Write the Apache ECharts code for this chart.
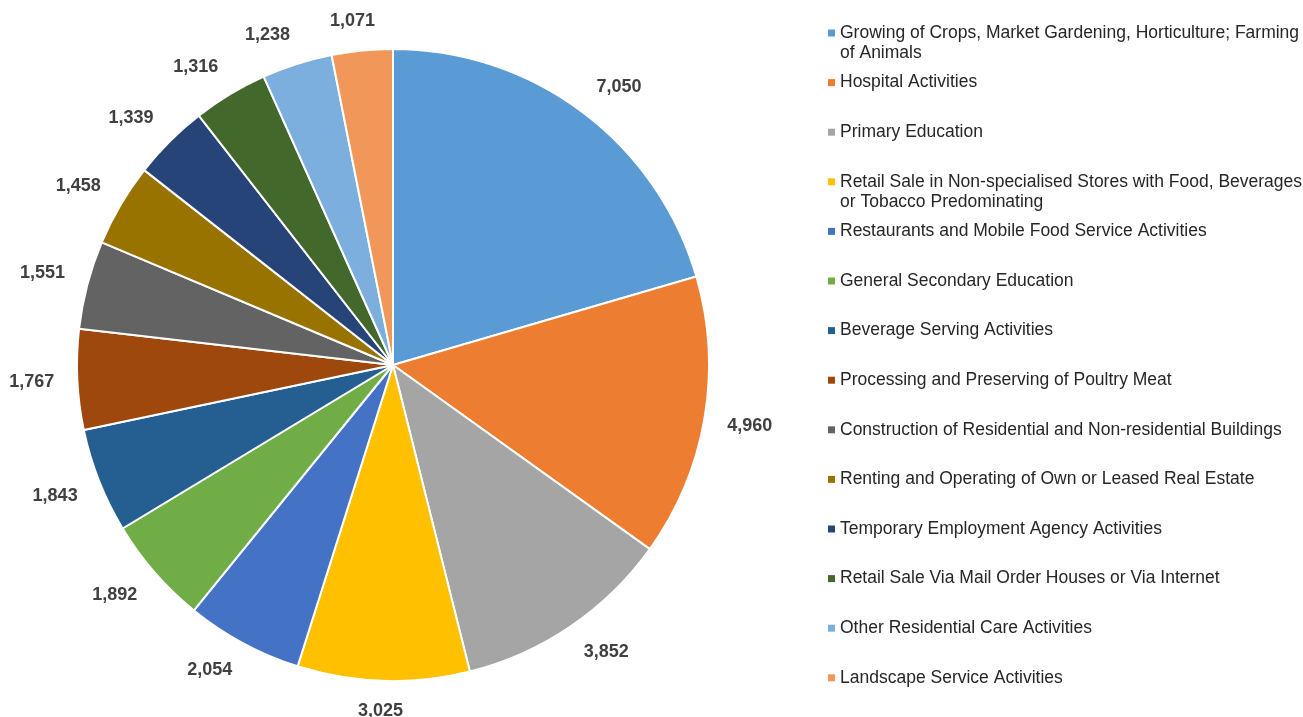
<!DOCTYPE html>
<html>
<head>
<meta charset="utf-8">
<script src="https://cdn.jsdelivr.net/npm/echarts@6/dist/echarts.min.js"></script>
<style>
html,body{margin:0;padding:0;background:#fff;}
#chart{width:1303px;height:717px;}
</style>
</head>
<body>
<div id="chart"></div>
<script>
// ---- data ----
const categories = [
  "Growing of Crops, Market Gardening, Horticulture; Farming\nof Animals",
  "Hospital Activities",
  "Primary Education",
  "Retail Sale in Non-specialised Stores with Food, Beverages\nor Tobacco Predominating",
  "Restaurants and Mobile Food Service Activities",
  "General Secondary Education",
  "Beverage Serving Activities",
  "Processing and Preserving of Poultry Meat",
  "Construction of Residential and Non-residential Buildings",
  "Renting and Operating of Own or Leased Real Estate",
  "Temporary Employment Agency Activities",
  "Retail Sale Via Mail Order Houses or Via Internet",
  "Other Residential Care Activities",
  "Landscape Service Activities"
];
const values = [7050, 4960, 3852, 3025, 2054, 1892, 1843, 1767, 1551, 1458, 1339, 1316, 1238, 1071];
const colors = ["#5B9BD5", "#ED7D31", "#A5A5A5", "#FFC000", "#4472C4", "#70AD47", "#255E91",
                "#9E480E", "#636363", "#997300", "#264478", "#43682B", "#7CAFDD", "#F1975A"];

// ---- layout ----
const CX = 393, CY = 365, R = 316, LABEL_R = 339, SOFT = 0.3;
const FONT = "'Liberation Sans', Arial, sans-serif";

const total = values.reduce((a, b) => a + b, 0);
const mids = [];
(function () { let acc = 0; values.forEach(v => { mids.push((acc + v / 2) / total * 2 * Math.PI); acc += v; }); })();
const clamp = v => Math.max(-1, Math.min(1, v));

const chart = echarts.init(document.getElementById('chart'), null, { renderer: 'canvas' });

const legendBase = {
  orient: 'vertical',
  left: 828,
  padding: 0,
  itemWidth: 7,
  itemHeight: 7,
  itemGap: 29.6,
  icon: 'rect',
  selectedMode: false,
  data: categories,
  textStyle: { fontFamily: FONT, fontSize: 17.5, lineHeight: 20, color: '#262626' }
};

chart.setOption({
  animation: false,
  color: colors,
  legend: [
    Object.assign({}, legendBase, {
      top: 23,
      itemStyle: { borderWidth: 0 },
      formatter: n => n.split('\n')[0]
    }),
    Object.assign({}, legendBase, {
      top: 43,
      itemStyle: { opacity: 0, borderWidth: 0 },
      formatter: n => (n.split('\n')[1] || ' ')
    })
  ],
  series: [{
    type: 'pie',
    center: [CX, CY],
    radius: R,
    startAngle: 90,
    clockwise: true,
    avoidLabelOverlap: false,
    silent: true,
    emphasis: { disabled: true, scale: false },
    itemStyle: { borderColor: '#ffffff', borderWidth: 2 },
    label: {
      show: true,
      position: 'outside',
      fontFamily: FONT,
      fontSize: 18,
      fontWeight: 'bold',
      color: '#404040',
      formatter: p => echarts.format.addCommas(p.value)
    },
    labelLine: { show: false },
    labelLayout: function (p) {
      const a = mids[p.dataIndex];
      const ux = Math.sin(a), uy = -Math.cos(a);
      const w = p.labelRect.width, h = 14;
      const x = CX + LABEL_R * ux + (w / 2) * clamp(ux / SOFT);
      const y = CY + LABEL_R * uy + (h / 2) * clamp(uy / SOFT);
      return { x: x, y: y, align: 'center', verticalAlign: 'middle' };
    },
    data: categories.map((c, i) => ({ name: c, value: values[i] }))
  }]
});
</script>
</body>
</html>
